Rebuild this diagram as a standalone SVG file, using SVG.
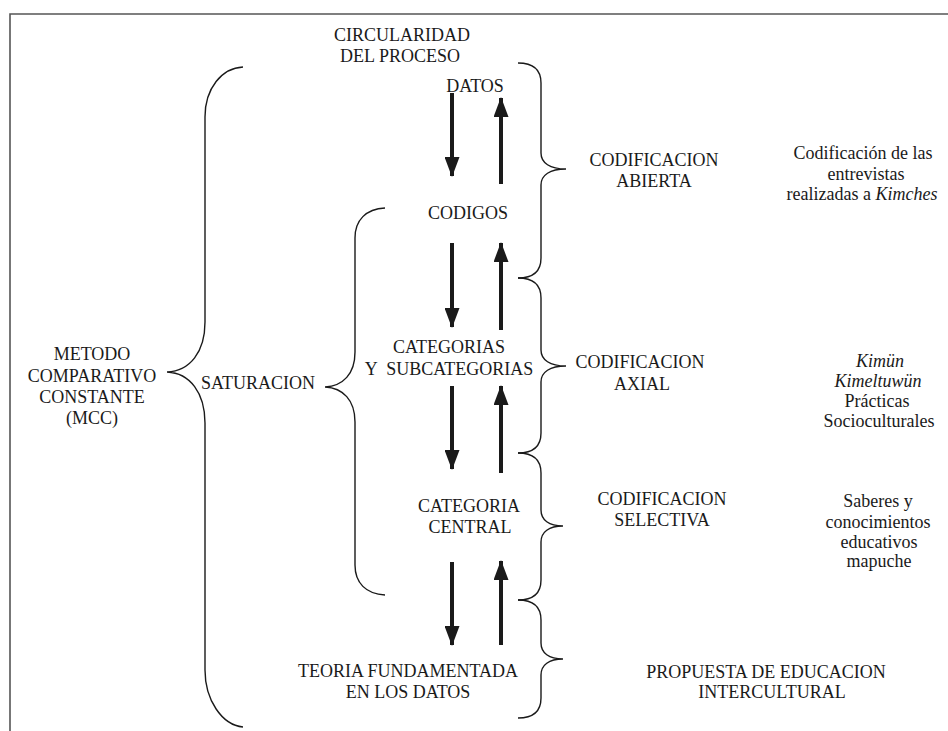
<svg xmlns="http://www.w3.org/2000/svg" width="948" height="731" viewBox="0 0 948 731">
<defs>
<style>
.t{font-family:"Liberation Serif","Times New Roman",serif;font-size:18px;fill:#1a1a1a;text-anchor:middle;white-space:pre}
.i{font-style:italic}
.br{fill:none;stroke:#1a1a1a;stroke-width:1.4}
.ar{stroke:#1a1a1a;stroke-width:4;fill:none}
.frame{fill:none;stroke:#555;stroke-width:1.6}
</style>
<marker id="ah" viewBox="0 0 20 15" refX="19" refY="7.5" markerWidth="5" markerHeight="3.75" orient="auto" markerUnits="strokeWidth">
<path d="M0,0 L20,7.5 L0,15 Z" fill="#1a1a1a"/>
</marker>
</defs>
<rect width="948" height="731" fill="#fff"/>
<path class="frame" d="M10,740 L10,14 L960,14"/>

<g id="braces">
<path id="brace-mcc" class="br" d="M243,67 C222,68 205,88 205,117 L205,322 C205,352 190,371 167,372 C190,373 205,393 205,423 L205,670 C205,700 222,725 243,727"/>
<path id="brace-saturacion" class="br" d="M385,208 C366,209 355,220 355,238 L355,352 C355,374 343,386 325,387 C343,388 355,400 355,422 L355,565 C355,583 366,594 385,595"/>
<path id="brace-abierta" class="br" d="M518,63 C533,63 541,69 541,83 L541,153 C541,163 550,169 566,169 C550,169 541,175 541,185 L541,258 C541,272 533,278 518,278"/>
<path id="brace-axial" class="br" d="M518,278 C533,278 541,284 541,298 L541,350 C541,360 550,366 566,366 C550,366 541,372 541,382 L541,433 C541,447 533,453 518,453"/>
<path id="brace-selectiva" class="br" d="M518,453 C533,453 541,459 541,473 L541,510 C541,520 549,526 563,526 C549,526 541,532 541,542 L541,580 C541,594 533,600 518,600"/>
<path id="brace-teoria" class="br" d="M518,600 C533,600 541,606 541,620 L541,643 C541,653 549,659 563,659 C549,659 541,665 541,675 L541,698 C541,712 533,718 518,718"/>
</g>

<g id="connectors">
<line class="ar" x1="452" y1="93" x2="452" y2="176" marker-end="url(#ah)"/>
<line class="ar" x1="501" y1="184" x2="501" y2="98" marker-end="url(#ah)"/>
<line class="ar" x1="452" y1="243" x2="452" y2="327" marker-end="url(#ah)"/>
<line class="ar" x1="501" y1="330" x2="501" y2="243" marker-end="url(#ah)"/>
<line class="ar" x1="452" y1="386" x2="452" y2="469" marker-end="url(#ah)"/>
<line class="ar" x1="501" y1="473" x2="501" y2="386" marker-end="url(#ah)"/>
<line class="ar" x1="452" y1="562" x2="452" y2="645" marker-end="url(#ah)"/>
<line class="ar" x1="501" y1="645" x2="501" y2="561" marker-end="url(#ah)"/>
</g>

<g id="circularidad"><text class="t" x="402" y="41">CIRCULARIDAD</text><text class="t" x="400" y="62">DEL PROCESO</text></g>
<g id="datos"><text class="t" x="475" y="92">DATOS</text></g>
<g id="codigos"><text class="t" x="468" y="219">CODIGOS</text></g>
<g id="categorias"><text class="t" x="449" y="353">CATEGORIAS</text><text class="t" x="449" y="375">Y  SUBCATEGORIAS</text></g>
<g id="categoria-central"><text class="t" x="469" y="512">CATEGORIA</text><text class="t" x="470" y="533">CENTRAL</text></g>
<g id="teoria"><text class="t" x="408" y="677">TEORIA FUNDAMENTADA</text><text class="t" x="408" y="698">EN LOS DATOS</text></g>
<g id="mcc"><text class="t" x="92" y="360">METODO</text><text class="t" x="92" y="382">COMPARATIVO</text><text class="t" x="92" y="403">CONSTANTE</text><text class="t" x="92" y="424">(MCC)</text></g>
<g id="saturacion"><text class="t" x="258" y="389">SATURACION</text></g>
<g id="cod-abierta"><text class="t" x="654" y="166">CODIFICACION</text><text class="t" x="654" y="187">ABIERTA</text></g>
<g id="cod-axial"><text class="t" x="640" y="368">CODIFICACION</text><text class="t" x="642" y="390">AXIAL</text></g>
<g id="cod-selectiva"><text class="t" x="662" y="505">CODIFICACION</text><text class="t" x="662" y="526">SELECTIVA</text></g>
<g id="nota-abierta"><text class="t" x="863" y="159">Codificación de las</text><text class="t" x="866" y="180">entrevistas</text><text class="t" x="862" y="200">realizadas a <tspan class="i">Kimches</tspan></text></g>
<g id="nota-axial"><text class="t i" x="880" y="367">Kimün</text><text class="t i" x="878" y="387">Kimeltuwün</text><text class="t" x="877" y="407">Prácticas</text><text class="t" x="879" y="427">Socioculturales</text></g>
<g id="nota-selectiva"><text class="t" x="878" y="507">Saberes y</text><text class="t" x="878" y="528">conocimientos</text><text class="t" x="879" y="548">educativos</text><text class="t" x="879" y="567">mapuche</text></g>
<g id="propuesta"><text class="t" x="766" y="678">PROPUESTA DE EDUCACION</text><text class="t" x="772" y="698">INTERCULTURAL</text></g>
</svg>
